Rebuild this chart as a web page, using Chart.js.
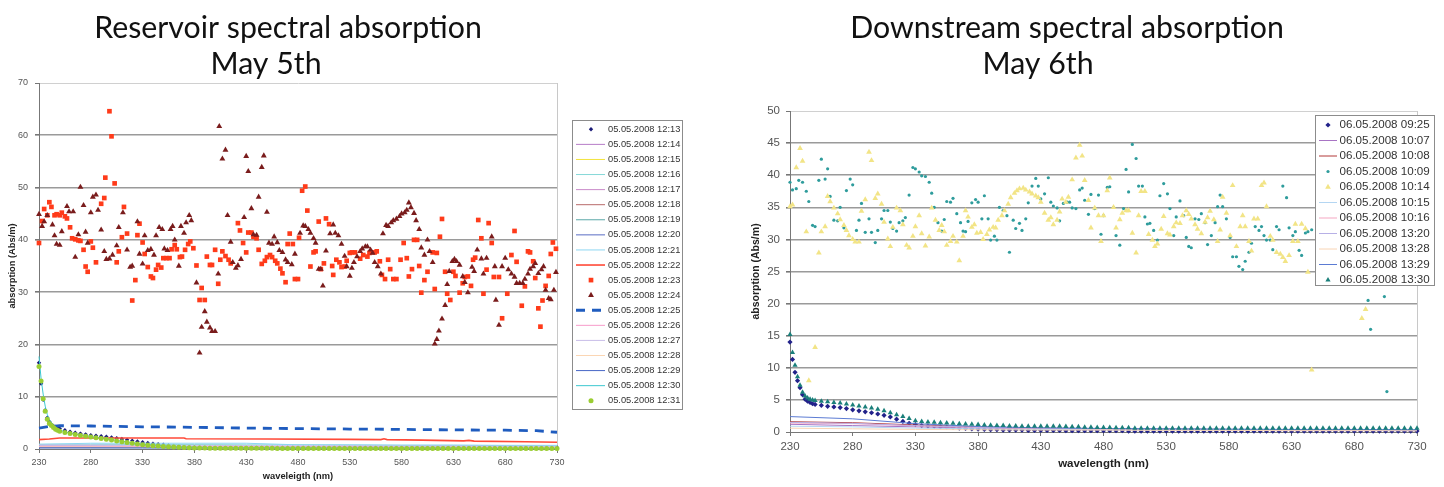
<!DOCTYPE html>
<html>
<head>
<meta charset="utf-8">
<script src="https://cdn.jsdelivr.net/npm/chart.js@4.4.1/dist/chart.umd.min.js"></script>
<style>
  html, body { margin: 0; padding: 0; background: #fff; }
  #wrap { position: relative; width: 1444px; height: 487px; overflow: hidden; }
  #leftBox { position: absolute; left: 0; top: 0; width: 720px; height: 487px; }
  #rightBox { position: absolute; left: 720px; top: 0; width: 724px; height: 487px; }
  canvas { display: block; }
</style>
</head>
<body>
<div id="wrap">
  <div id="leftBox"><canvas id="leftChart" width="720" height="487" style="width:720px;height:487px"></canvas></div>
  <div id="rightBox"><canvas id="rightChart" width="724" height="487" style="width:724px;height:487px"></canvas></div>
</div>
<script>
var FONT = '"Liberation Sans", Arial, sans-serif';

// ---------- shared wavelength grids ----------
var xTicks = [230, 280, 330, 380, 430, 480, 530, 580, 630, 680, 730];
var sparseNm = [230, 280, 330, 380, 430, 480, 530, 580, 630, 680, 730];
var headNm = [230, 232, 234, 236, 238, 240, 242, 244, 246, 248];
var gridNm = [];
for (var w = 250; w <= 730; w += 5) gridNm.push(w);
var curveNm = headNm.concat(gridNm);

// ---------- LEFT: reservoir, May 5th ----------
var leftYTicks = [0, 10, 20, 30, 40, 50, 60, 70];

var navy13Head = [16.5, 12.5, 9.4, 7.4, 6.0, 5.2, 4.7, 4.4, 4.2, 4.0];
var navy13Tail = [
  3.9, 3.6, 3.3, 3.1, 2.95, 2.8, 2.65, 2.55, 2.45, 2.35,
  2.2, 2.05, 1.9, 1.75, 1.6, 1.45, 1.3, 1.15, 1.0, 0.9,
  0.8, 0.7, 0.6, 0.55, 0.5, 0.45, 0.4, 0.4, 0.35, 0.35,
  0.3, 0.3, 0.3, 0.3, 0.3, 0.3, 0.3, 0.3, 0.3, 0.3,
  0.3, 0.3, 0.3, 0.3, 0.3, 0.3, 0.3, 0.3, 0.3, 0.3,
  0.3, 0.3, 0.3, 0.3, 0.3, 0.3, 0.3, 0.3, 0.3, 0.3,
  0.3, 0.3, 0.3, 0.3, 0.3, 0.3, 0.3, 0.3, 0.3, 0.3,
  0.3, 0.3, 0.3, 0.3, 0.3, 0.3, 0.3, 0.3, 0.3, 0.3,
  0.3, 0.3, 0.3, 0.3, 0.3, 0.3, 0.3, 0.3, 0.3, 0.3,
  0.3, 0.3, 0.3, 0.3, 0.3, 0.3, 0.3
];
var green31Head = [15.8, 13.0, 9.6, 7.2, 5.7, 4.9, 4.5, 4.1, 3.8, 3.6];
var green31Tail = [
  3.4, 3.15, 2.95, 2.75, 2.6, 2.45, 2.3, 2.15, 2.0, 1.85,
  1.7, 1.55, 1.4, 1.25, 1.1, 0.95, 0.8, 0.7, 0.6, 0.55,
  0.5, 0.45, 0.4, 0.35, 0.3, 0.25, 0.2, 0.2, 0.2, 0.15,
  0.15, 0.15, 0.15, 0.15, 0.15, 0.15, 0.15, 0.15, 0.15, 0.15,
  0.15, 0.15, 0.1, 0.1, 0.1, 0.1, 0.1, 0.1, 0.1, 0.1,
  0.1, 0.1, 0.1, 0.1, 0.1, 0.1, 0.1, 0.1, 0.1, 0.1,
  0.1, 0.1, 0.1, 0.1, 0.1, 0.1, 0.1, 0.1, 0.1, 0.1,
  0.1, 0.1, 0.1, 0.1, 0.1, 0.1, 0.1, 0.1, 0.1, 0.1,
  0.1, 0.1, 0.1, 0.1, 0.1, 0.1, 0.1, 0.1, 0.1, 0.1,
  0.1, 0.1, 0.1, 0.1, 0.1, 0.1, 0.1
];

var purple14Abs = [0.6, 0.6, 0.55, 0.5, 0.5, 0.45, 0.45, 0.4, 0.4, 0.35, 0.3];
var yellow15Abs = [0.3, 0.3, 0.3, 0.25, 0.25, 0.2, 0.2, 0.2, 0.2, 0.2, 0.2];
var cyan16Abs = [0.9, 0.9, 0.85, 0.85, 0.8, 0.8, 0.75, 0.7, 0.7, 0.65, 0.6];
var mauve17Abs = [0.45, 0.45, 0.4, 0.4, 0.4, 0.35, 0.35, 0.35, 0.3, 0.3, 0.3];
var brown18Abs = [0.35, 0.35, 0.3, 0.3, 0.3, 0.3, 0.25, 0.25, 0.25, 0.2, 0.2];
var teal19Abs = [0.25, 0.25, 0.25, 0.2, 0.2, 0.2, 0.2, 0.2, 0.15, 0.15, 0.15];
var blue20Abs = [0.3, 0.3, 0.3, 0.25, 0.25, 0.25, 0.2, 0.2, 0.2, 0.2, 0.2];
var sky21Abs = [0.9, 1.1, 1.1, 1.1, 1.1, 0.8, 0.8, 0.75, 0.75, 0.7, 0.7];
var red22Nm = [230, 240, 250, 300, 370, 372, 450, 530, 560, 563, 566, 600, 640, 645, 650, 700, 730];
var red22Abs = [1.8, 1.9, 2.1, 2.1, 2.1, 1.95, 1.9, 1.85, 1.8, 1.95, 1.8, 1.7, 1.55, 1.65, 1.5, 1.4, 1.3];

var sq23Nm = [230, 233, 235, 238, 240, 242, 245, 247, 250, 252, 255, 257, 260, 262, 265, 268, 270, 273, 275, 277,
  280, 282, 285, 290, 293, 294, 298, 300, 303, 305, 307, 310, 312, 315, 320, 323, 325, 327, 330, 332,
  335, 338, 340, 343, 345, 348, 350, 353, 356, 358, 361, 363, 366, 368, 371, 374, 376, 379, 382, 385,
  387, 390, 392, 395, 397, 400, 403, 405, 407, 410, 413, 415, 422, 424, 427, 430, 432, 435, 437, 440,
  442, 445, 448, 450, 453, 455, 458, 460, 463, 465, 468, 470, 472, 475, 477, 480, 481, 484, 487, 489,
  492, 495, 497, 500, 502, 505, 507, 510, 513, 514, 517, 520, 522, 525, 527, 530, 532, 535, 540, 543,
  547, 549, 554, 556, 559, 561, 564, 567, 569, 572, 575, 579, 582, 585, 587, 590, 592, 595, 597, 599,
  602, 605, 610, 612, 614, 617, 619, 622, 624, 627, 630, 632, 636, 639, 641, 644, 647, 649, 651, 654,
  657, 659, 662, 664, 667, 669, 674, 677, 682, 686, 689, 691, 696, 699, 702, 704, 707, 709, 712, 714,
  716, 719, 722, 724, 726, 729];
var sq23Abs = [39.4, 43.6, 45.9, 44.7, 47.2, 46.3, 44.7, 44.9, 44.7, 45.2, 44.5, 44.1, 42.4, 40.3, 40.1, 39.9, 39.8, 38.1, 34.9, 33.9,
  39.7, 38.5, 35.7, 46.9, 48.0, 51.9, 64.6, 59.8, 50.8, 35.7, 37.8, 40.5, 46.3, 41.2, 28.4, 32.3, 40.9, 43.1, 39.5, 37.3,
  34.8, 33.0, 32.7, 34.3, 35.2, 34.7, 36.5, 36.5, 36.5, 38.2, 39.0, 38.2, 36.7, 36.8, 38.1, 39.2, 39.7, 38.4, 35.1, 28.5,
  30.8, 28.5, 36.8, 35.2, 35.2, 38.1, 31.6, 36.2, 37.8, 36.9, 36.2, 35.5, 43.2, 41.8, 39.4, 37.6, 41.4, 41.4, 40.6, 40.3,
  38.1, 35.4, 36.0, 36.7, 37.1, 36.7, 36.0, 35.5, 34.5, 33.6, 31.9, 39.2, 41.2, 39.2, 32.5, 32.5, 40.4, 49.4, 50.2, 45.6,
  34.9, 37.6, 37.8, 43.5, 34.4, 35.5, 44.1, 43.0, 35.0, 33.3, 36.2, 35.7, 34.8, 34.9, 36.0, 37.5, 37.6, 37.6, 36.4, 37.1,
  36.8, 37.5, 37.6, 37.8, 35.9, 33.3, 32.5, 36.2, 34.4, 32.5, 32.5, 36.2, 39.4, 36.5, 33.0, 34.4, 40.0, 40.0, 35.0, 29.9,
  32.3, 33.9, 37.6, 30.6, 37.5, 40.6, 44.0, 33.9, 29.7, 28.5, 33.9, 33.1, 29.9, 31.7, 32.9, 33.0, 31.2, 36.2, 36.6, 43.8,
  40.3, 29.7, 34.3, 43.2, 39.4, 32.9, 32.9, 25.0, 29.7, 37.1, 41.7, 35.8, 27.4, 31.1, 37.8, 37.6, 35.9, 32.7, 26.9, 23.4,
  28.4, 31.2, 33.1, 37.3, 39.5, 38.3];

var tri24Nm = [230, 233, 235, 238, 243, 245, 247, 250, 252, 257, 259, 263, 265, 268, 270, 273, 275, 277, 280, 282,
  285, 287, 290, 293, 295, 298, 301, 305, 307, 311, 315, 318, 320, 325, 327, 330, 332, 335, 338, 341,
  343, 346, 349, 351, 354, 357, 359, 361, 365, 367, 370, 372, 375, 377, 382, 385, 387, 390, 392, 395,
  397, 400, 403, 404, 407, 410, 412, 415, 417, 420, 422, 425, 428, 430, 432, 435, 437, 440, 442, 445,
  447, 450, 452, 455, 457, 460, 462, 465, 468, 470, 474, 477, 482, 485, 487, 490, 492, 495, 497, 500,
  502, 504, 507, 511, 514, 516, 519, 522, 525, 527, 530, 532, 534, 537, 540, 542, 545, 547, 550, 552,
  554, 557, 560, 562, 565, 567, 570, 572, 575, 578, 580, 583, 585, 587, 589, 592, 594, 597, 599, 602,
  605, 607, 610, 612, 614, 616, 619, 622, 624, 626, 629, 631, 633, 636, 639, 641, 644, 648, 650, 653,
  657, 659, 662, 667, 670, 671, 674, 677, 680, 683, 686, 689, 691, 694, 697, 699, 702, 704, 707, 709,
  712, 715, 717, 719, 722, 724, 727, 729];
var tri24Abs = [44.9, 42.6, 43.5, 44.7, 42.9, 40.8, 39.2, 39.0, 41.6, 46.4, 45.4, 45.4, 36.7, 41.0, 50.1, 46.6, 41.5, 39.4, 45.2, 48.2,
  48.6, 45.7, 41.9, 37.8, 36.3, 36.4, 37.1, 38.9, 42.4, 45.2, 38.1, 34.8, 35.0, 43.5, 37.3, 35.4, 40.8, 38.0, 38.2, 37.1,
  40.8, 42.4, 42.0, 38.3, 38.0, 42.0, 42.6, 40.0, 35.0, 42.6, 41.3, 43.3, 44.7, 43.7, 31.8, 18.4, 23.3, 26.3, 24.3, 23.2,
  22.5, 22.5, 33.5, 61.7, 55.5, 57.2, 44.7, 39.6, 35.7, 34.6, 35.1, 36.3, 44.3, 56.0, 53.1, 46.0, 41.0, 40.9, 48.2, 53.9,
  56.1, 45.3, 39.4, 39.2, 40.6, 39.5, 38.0, 37.6, 36.2, 35.7, 35.3, 37.3, 41.3, 42.7, 42.6, 42.0, 41.3, 40.3, 39.4, 34.4,
  34.4, 31.2, 37.9, 41.2, 42.9, 41.3, 40.8, 39.2, 36.9, 34.9, 33.1, 34.6, 35.7, 36.8, 37.8, 38.3, 38.7, 38.7, 38.1, 37.5,
  35.7, 34.9, 33.5, 41.2, 42.8, 42.6, 43.3, 43.7, 44.0, 44.5, 45.0, 45.2, 45.7, 47.1, 46.2, 45.1, 43.7, 42.0, 38.5, 37.1,
  40.0, 37.8, 35.7, 20.1, 21.0, 22.6, 24.9, 27.5, 31.5, 34.0, 35.9, 36.3, 35.9, 35.2, 33.0, 31.9, 29.9, 34.8, 34.0, 38.1,
  36.4, 33.5, 36.5, 40.6, 34.9, 28.5, 23.7, 34.9, 36.5, 34.3, 33.5, 32.9, 31.7, 31.7, 31.7, 32.5, 33.5, 34.4, 34.9, 35.5,
  33.6, 34.3, 34.9, 30.4, 28.8, 28.6, 30.4, 33.8];

var dash25Nm = [230, 240, 250, 280, 330, 380, 430, 480, 530, 580, 630, 680, 710, 730];
var dash25Abs = [4.0, 4.3, 4.45, 4.4, 4.25, 4.15, 4.0, 3.9, 3.82, 3.75, 3.65, 3.6, 3.5, 3.2];
var pink26Abs = [0.5, 0.5, 0.5, 0.45, 0.45, 0.4, 0.4, 0.4, 0.35, 0.35, 0.35];
var lav27Abs = [0.75, 0.75, 0.7, 0.7, 0.65, 0.6, 0.6, 0.55, 0.55, 0.5, 0.5];
var peach28Abs = [0.4, 0.4, 0.35, 0.35, 0.35, 0.3, 0.3, 0.3, 0.3, 0.25, 0.25];
var blue29Abs = [0.2, 0.2, 0.2, 0.2, 0.15, 0.15, 0.15, 0.15, 0.15, 0.1, 0.1];
var cyan30Nm = [230, 232, 234, 236, 238, 240, 245, 250, 260, 280, 300, 330, 360, 400, 500, 730];
var cyan30Abs = [17.7, 13.5, 10.5, 8.2, 6.6, 5.6, 4.3, 3.6, 3.0, 2.4, 1.8, 0.9, 0.45, 0.25, 0.15, 0.1];

// ---------- RIGHT: downstream, May 6th ----------
var rightYTicks = [0, 5, 10, 15, 20, 25, 30, 35, 40, 45, 50];

var navy0925Head = [14.0, 11.3, 9.3, 8.0, 6.9, 5.8, 5.1, 4.8, 4.6, 4.4];
var navy0925Tail = [
  4.3, 4.15, 4.0, 3.9, 3.8, 3.65, 3.45, 3.3, 3.15, 3.0,
  2.8, 2.6, 2.35, 2.0, 1.65, 1.35, 1.15, 1.0, 0.95, 0.9,
  0.8, 0.75, 0.7, 0.6, 0.55, 0.5, 0.45, 0.4, 0.35, 0.35,
  0.3, 0.3, 0.3, 0.3, 0.25, 0.25, 0.25, 0.25, 0.25, 0.25,
  0.2, 0.2, 0.2, 0.2, 0.2, 0.2, 0.2, 0.2, 0.2, 0.2,
  0.15, 0.15, 0.15, 0.15, 0.15, 0.15, 0.15, 0.15, 0.15, 0.15,
  0.15, 0.15, 0.15, 0.15, 0.15, 0.15, 0.15, 0.15, 0.15, 0.15,
  0.15, 0.15, 0.15, 0.15, 0.15, 0.15, 0.15, 0.15, 0.15, 0.15,
  0.15, 0.15, 0.15, 0.15, 0.15, 0.15, 0.15, 0.15, 0.15, 0.15,
  0.15, 0.15, 0.15, 0.15, 0.15, 0.15, 0.15
];
var teal1330Head = [15.2, 12.4, 10.4, 8.6, 7.3, 6.2, 5.6, 5.3, 5.1, 5.0];
var teal1330Tail = [
  4.9, 4.8, 4.7, 4.6, 4.5, 4.35, 4.2, 4.05, 3.9, 3.75,
  3.55, 3.3, 3.0, 2.7, 2.4, 2.1, 1.75, 1.65, 1.55, 1.5,
  1.45, 1.4, 1.35, 1.3, 1.25, 1.2, 1.15, 1.1, 1.05, 1.0,
  1.0, 0.95, 0.95, 0.9, 0.9, 0.9, 0.9, 0.9, 0.9, 0.9,
  0.85, 0.8, 0.8, 0.75, 0.75, 0.7, 0.7, 0.7, 0.65, 0.65,
  0.65, 0.6, 0.6, 0.6, 0.6, 0.6, 0.6, 0.6, 0.6, 0.6,
  0.6, 0.6, 0.6, 0.6, 0.6, 0.6, 0.6, 0.6, 0.6, 0.6,
  0.6, 0.6, 0.6, 0.6, 0.6, 0.6, 0.6, 0.6, 0.6, 0.6,
  0.6, 0.6, 0.6, 0.6, 0.6, 0.6, 0.6, 0.6, 0.6, 0.6,
  0.6, 0.6, 0.6, 0.6, 0.6, 0.6, 0.6
];

var dot1009Nm = [230, 232, 235, 237, 240, 243, 245, 248, 250, 253, 255, 258, 260, 262, 265, 268, 270, 273, 275, 278,
  280, 283, 285, 287, 290, 293, 295, 298, 300, 303, 305, 308, 310, 312, 315, 317, 320, 322, 325, 328,
  330, 333, 335, 338, 341, 343, 345, 348, 351, 353, 355, 358, 360, 363, 366, 368, 370, 372, 375, 378,
  380, 383, 385, 388, 390, 393, 395, 397, 400, 403, 405, 408, 410, 413, 415, 418, 420, 423, 426, 428,
  430, 433, 436, 438, 440, 443, 445, 448, 451, 453, 455, 458, 461, 463, 465, 468, 470, 473, 476, 478,
  480, 483, 485, 488, 490, 493, 496, 498, 500, 503, 506, 508, 511, 513, 515, 517, 520, 523, 525, 528,
  531, 533, 536, 538, 541, 544, 546, 548, 550, 553, 556, 558, 561, 563, 566, 569, 571, 573, 575, 578,
  581, 583, 586, 588, 591, 593, 596, 598, 601, 604, 606, 608, 610, 613, 615, 618, 620, 623, 626, 628,
  631, 633, 636, 638, 641, 643, 646, 691, 693, 704, 706];
var dot1009Abs = [38.9, 37.7, 37.9, 39.2, 38.9, 37.5, 35.9, 32.2, 32.0, 39.2, 42.5, 39.4, 41.0, 36.7, 33.0, 32.9, 35.0, 31.8, 37.6, 39.4,
  38.5, 31.4, 33.0, 35.6, 31.1, 33.2, 31.1, 29.5, 31.4, 33.2, 34.5, 34.5, 32.7, 31.7, 31.3, 32.6, 32.9, 33.4, 36.9, 41.2,
  41.0, 40.5, 39.9, 39.8, 38.9, 37.2, 35.0, 32.6, 31.3, 33.1, 35.9, 35.8, 36.4, 34.0, 32.6, 31.3, 31.2, 32.8, 35.7, 36.2,
  35.8, 33.2, 36.8, 33.2, 29.9, 30.5, 29.9, 35.0, 34.5, 33.7, 28.0, 33.0, 31.7, 32.5, 31.4, 33.2, 35.7, 38.3, 39.5, 38.3,
  36.3, 37.1, 39.6, 35.8, 35.2, 34.9, 32.9, 35.6, 35.8, 35.8, 34.9, 34.8, 37.7, 38.0, 36.1, 33.9, 37.0, 34.8, 36.9, 30.8,
  33.7, 38.1, 38.2, 35.0, 30.6, 29.1, 34.8, 40.9, 37.4, 44.8, 42.6, 38.3, 38.3, 33.5, 32.4, 32.5, 31.4, 29.9, 36.8, 38.7,
  37.1, 34.8, 30.6, 33.5, 36.0, 33.7, 30.3, 28.9, 28.7, 33.2, 33.1, 34.0, 32.6, 29.2, 30.6, 32.6, 35.1, 36.9, 35.1, 33.2,
  30.3, 27.3, 27.3, 25.8, 25.3, 26.6, 28.0, 29.4, 32.0, 31.4, 32.0, 30.6, 29.9, 29.9, 28.4, 32.0, 31.5, 38.3, 36.5, 31.8,
  30.6, 31.2, 28.3, 27.5, 31.0, 31.2, 31.5, 20.5, 16.0, 21.1, 6.3];

var tri1014Nm = [230, 232, 235, 238, 240, 243, 245, 250, 253, 255, 258, 260, 262, 265, 268, 270, 273, 275, 277, 280,
  282, 285, 287, 290, 293, 295, 298, 300, 303, 305, 308, 310, 312, 315, 318, 320, 323, 325, 328, 330,
  333, 335, 338, 341, 343, 346, 349, 351, 353, 355, 358, 360, 363, 365, 368, 370, 372, 375, 377, 379,
  382, 384, 387, 389, 392, 394, 396, 399, 401, 404, 406, 409, 411, 413, 416, 418, 421, 423, 426, 428,
  430, 433, 436, 438, 440, 443, 445, 447, 450, 452, 455, 458, 461, 463, 465, 468, 470, 473, 476, 478,
  480, 483, 485, 488, 490, 493, 495, 498, 500, 503, 506, 508, 510, 513, 516, 519, 521, 523, 526, 528,
  531, 533, 536, 538, 541, 543, 546, 548, 550, 553, 555, 558, 561, 563, 565, 568, 571, 573, 575, 578,
  581, 583, 586, 589, 591, 593, 596, 598, 600, 603, 606, 608, 610, 613, 615, 618, 621, 623, 625, 628,
  631, 633, 635, 638, 641, 643, 646, 686, 689];
var tri1014Abs = [35.1, 35.4, 41.2, 44.2, 42.2, 31.2, 8.0, 13.2, 27.9, 31.2, 32.0, 36.7, 35.9, 34.9, 34.0, 33.1, 32.2, 31.4, 30.6, 30.0,
  29.6, 29.6, 34.4, 36.2, 43.6, 42.3, 36.4, 37.1, 35.5, 32.7, 30.1, 28.9, 31.9, 34.9, 34.5, 32.3, 29.1, 28.7, 30.5, 32.0,
  33.7, 30.9, 29.0, 30.4, 34.9, 33.0, 31.4, 32.2, 31.2, 29.1, 29.7, 30.5, 29.6, 26.7, 30.5, 34.5, 33.5, 31.9, 32.3, 31.0,
  31.1, 30.0, 30.8, 31.5, 31.9, 31.8, 33.0, 33.7, 34.5, 35.5, 36.5, 37.2, 37.6, 37.9, 38.0, 37.7, 37.4, 37.1, 36.8, 36.5,
  35.8, 34.1, 33.0, 33.4, 32.3, 33.0, 34.3, 36.3, 35.8, 36.6, 39.3, 42.7, 44.7, 43.0, 39.2, 36.1, 31.8, 34.9, 33.7, 29.7,
  33.7, 37.6, 39.6, 35.0, 31.8, 33.1, 34.1, 34.5, 34.5, 31.0, 27.9, 33.7, 37.5, 37.5, 30.8, 29.9, 28.9, 29.3, 31.6, 33.6,
  30.9, 30.7, 32.0, 32.6, 32.5, 33.7, 34.5, 33.9, 33.2, 32.3, 31.6, 30.9, 32.7, 33.4, 34.4, 33.1, 29.7, 31.5, 36.6, 34.1,
  30.6, 38.4, 28.9, 32.0, 33.7, 32.0, 29.7, 28.2, 33.2, 33.2, 38.4, 38.8, 35.1, 30.5, 29.9, 28.0, 27.7, 27.2, 26.6, 27.5,
  29.7, 32.4, 29.7, 32.4, 31.7, 24.9, 9.7, 17.7, 19.1];

var purple1007Abs = [1.2, 1.0, 0.8, 0.6, 0.5, 0.45, 0.4, 0.35, 0.3, 0.3, 0.25];
var red1008Abs = [1.6, 1.45, 1.1, 0.8, 0.6, 0.5, 0.45, 0.4, 0.35, 0.3, 0.2];
var sky1015Abs = [0.9, 0.8, 0.6, 0.5, 0.4, 0.35, 0.3, 0.3, 0.25, 0.25, 0.2];
var pink1016Abs = [1.4, 1.3, 0.95, 0.7, 0.55, 0.45, 0.4, 0.35, 0.3, 0.3, 0.25];
var lav1320Abs = [1.5, 1.35, 1.0, 0.75, 0.6, 0.5, 0.45, 0.4, 0.35, 0.3, 0.3];
var peach1328Abs = [0.6, 0.5, 0.4, 0.35, 0.3, 0.3, 0.25, 0.25, 0.2, 0.2, 0.2];
var blue1329Abs = [2.4, 2.05, 1.3, 0.85, 0.65, 0.55, 0.5, 0.45, 0.4, 0.4, 0.35];

// ---------- helpers ----------
function pts(xs, ys) {
  return xs.map(function (x, i) { return { x: x, y: ys[i] }; });
}

function markerSet(label, xs, ys, style, r, color) {
  return {
    label: label, data: pts(xs, ys), showLine: false,
    pointStyle: style, pointRadius: r, pointHoverRadius: r,
    pointBackgroundColor: color, pointBorderColor: color, pointBorderWidth: 0,
    borderColor: color, backgroundColor: color, clip: false
  };
}

function lineSet(label, xs, ys, color, width, dash) {
  return {
    label: label, data: pts(xs, ys), showLine: true, pointRadius: 0,
    borderColor: color, backgroundColor: color, borderWidth: width,
    borderDash: dash || [], tension: 0, fill: false, clip: false
  };
}

// draw the boxed legend at a fixed spot, like the spreadsheet did
function boxLegend(box) {
  return {
    id: 'boxLegend',
    afterDraw: function (chart) {
      var ctx = chart.ctx;
      ctx.save();
      ctx.fillStyle = '#fff';
      ctx.fillRect(box.x, box.y, box.w, box.h);
      ctx.strokeStyle = '#8c8c8c';
      ctx.lineWidth = 1;
      ctx.strokeRect(box.x + 0.5, box.y + 0.5, box.w, box.h);
      ctx.font = box.font + 'px ' + FONT;
      ctx.textBaseline = 'middle';
      ctx.textAlign = 'left';
      chart.data.datasets.forEach(function (ds, i) {
        var cy = box.row0 + i * box.gap;
        if (ds.showLine) {
          ctx.save();
          ctx.strokeStyle = ds.borderColor;
          ctx.lineWidth = ds.borderWidth;
          ctx.setLineDash(ds.borderDash || []);
          ctx.beginPath();
          ctx.moveTo(box.lineX0, cy);
          ctx.lineTo(box.lineX1, cy);
          ctx.stroke();
          ctx.restore();
        }
        if (ds.pointRadius > 0) {
          ctx.fillStyle = ds.pointBackgroundColor;
          ctx.strokeStyle = ds.pointBorderColor;
          Chart.helpers.drawPoint(ctx, {
            pointStyle: ds.pointStyle, radius: ds.pointRadius,
            borderWidth: 0, rotation: 0
          }, box.markX, cy);
        }
        ctx.fillStyle = '#333';
        ctx.fillText(ds.label, box.textX, cy);
      });
      ctx.restore();
    }
  };
}

function slideTitle(lines, size) {
  return {
    id: 'slideTitle',
    afterDraw: function (chart) {
      var ctx = chart.ctx;
      ctx.save();
      ctx.fillStyle = '#111';
      ctx.font = size + 'px Lato, "Open Sans", sans-serif';
      ctx.textAlign = 'center';
      ctx.textBaseline = 'alphabetic';
      lines.forEach(function (l) { ctx.fillText(l.text, l.x, l.y); });
      ctx.restore();
    }
  };
}

// light frame on the right edge of the plot
var plotFrame = {
  id: 'plotFrame',
  beforeDatasetsDraw: function (chart) {
    var a = chart.chartArea, ctx = chart.ctx;
    ctx.save();
    ctx.strokeStyle = '#c8c8c8';
    ctx.lineWidth = 1;
    ctx.beginPath();
    ctx.moveTo(Math.round(a.right) + 0.5, a.top);
    ctx.lineTo(Math.round(a.right) + 0.5, a.bottom);
    ctx.stroke();
    ctx.restore();
  }
};

function scalesFor(o) {
  return {
    x: {
      type: 'linear', min: 230, max: 730,
      afterBuildTicks: function (s) { s.ticks = xTicks.map(function (v) { return { value: v }; }); },
      afterFit: function (s) { s.height = o.xHeight; },
      grid: { drawOnChartArea: false, drawTicks: true, tickLength: 4, tickColor: '#777' },
      border: { display: true, color: '#777', width: 1 },
      ticks: { font: { family: FONT, size: o.tickSize }, color: '#555', padding: o.xPad, maxRotation: 0, autoSkip: false },
      title: { display: true, text: o.xTitle, color: '#222',
        font: { family: FONT, size: o.titleSize, weight: 'bold' },
        padding: { top: 0, bottom: o.xTitlePad } }
    },
    y: {
      type: 'linear', min: 0, max: o.yMax,
      afterBuildTicks: function (s) { s.ticks = o.yTicks.map(function (v) { return { value: v }; }); },
      afterFit: function (s) { s.width = o.yWidth; },
      grid: {
        color: function (c) {
          if (c.tick && c.tick.value === o.yMax) return '#d0d0d0';
          if (c.tick && c.tick.value === 0) return '#777';
          return '#9a9a9a';
        },
        lineWidth: function (c) { return (c.tick && (c.tick.value === o.yMax || c.tick.value === 0)) ? 1 : 1.6; },
        tickLength: 4, tickColor: '#777'
      },
      border: { display: true, color: '#777', width: 1 },
      ticks: { font: { family: FONT, size: o.tickSize }, color: '#555', padding: o.yPad, autoSkip: false },
      title: { display: true, text: 'absorption (Abs/m)', color: '#222',
        font: { family: FONT, size: o.yTitleSize, weight: 'bold' },
        padding: { top: o.yTitlePad, bottom: 0 } }
    }
  };
}

function makeChart(id, datasets, scales, padding, extraPlugins) {
  datasets.forEach(function (d, i) { d.order = -i; });
  return new Chart(document.getElementById(id), {
    type: 'scatter',
    data: { datasets: datasets },
    options: {
      responsive: false, animation: false, events: [],
      layout: { padding: padding },
      plugins: { legend: { display: false }, tooltip: { enabled: false }, title: { display: false } },
      scales: scales
    },
    plugins: [plotFrame].concat(extraPlugins)
  });
}

// ---------- left chart ----------
var leftSets = [
  markerSet('05.05.2008 12:13', curveNm, navy13Head.concat(navy13Tail), 'rectRot', 2.2, '#1c1c78'),
  lineSet('05.05.2008 12:14', sparseNm, purple14Abs, '#b77dc8', 1),
  lineSet('05.05.2008 12:15', sparseNm, yellow15Abs, '#f2e33c', 1),
  lineSet('05.05.2008 12:16', sparseNm, cyan16Abs, '#86d8d8', 1),
  lineSet('05.05.2008 12:17', sparseNm, mauve17Abs, '#c98bc9', 1),
  lineSet('05.05.2008 12:18', sparseNm, brown18Abs, '#b86a6a', 1),
  lineSet('05.05.2008 12:19', sparseNm, teal19Abs, '#5aa8a8', 1),
  lineSet('05.05.2008 12:20', sparseNm, blue20Abs, '#5a6cc4', 1),
  lineSet('05.05.2008 12:21', sparseNm, sky21Abs, '#8ed6f2', 1),
  lineSet('05.05.2008 12:22', red22Nm, red22Abs, '#ff4a38', 1.6),
  markerSet('05.05.2008 12:23', sq23Nm, sq23Abs, 'rect', 3.3, '#ff3b1a'),
  markerSet('05.05.2008 12:24', tri24Nm, tri24Abs, 'triangle', 3.4, '#7a1c1c'),
  lineSet('05.05.2008 12:25', dash25Nm, dash25Abs, '#1f5cbf', 2.8, [9, 7]),
  lineSet('05.05.2008 12:26', sparseNm, pink26Abs, '#f79ccb', 1),
  lineSet('05.05.2008 12:27', sparseNm, lav27Abs, '#c9bde8', 1),
  lineSet('05.05.2008 12:28', sparseNm, peach28Abs, '#fbd6b4', 1),
  lineSet('05.05.2008 12:29', sparseNm, blue29Abs, '#4766c6', 1),
  lineSet('05.05.2008 12:30', cyan30Nm, cyan30Abs, '#3cc8d0', 1),
  markerSet('05.05.2008 12:31', curveNm, green31Head.concat(green31Tail), 'circle', 2.5, '#9acd32')
];

makeChart('leftChart', leftSets, scalesFor({
  yMax: 70, yTicks: leftYTicks, yWidth: 39, xHeight: 38, tickSize: 9,
  xPad: 4, yPad: 7, titleSize: 9.3, yTitleSize: 9.3, xTitlePad: 5.4, yTitlePad: 6.4,
  xTitle: 'waveleigth (nm)'
}), { left: 0, top: 83, right: 163, bottom: 0 }, [
  boxLegend({ x: 572, y: 120, w: 110, h: 289, row0: 129.3, gap: 15.08,
    lineX0: 576, lineX1: 605, markX: 591, textX: 608, font: 9.3 }),
  slideTitle([
    { text: 'Reservoir spectral absorption', x: 288, y: 38 },
    { text: 'May 5th', x: 266, y: 74 }
  ], 30.3)
]);

// ---------- right chart ----------
var rightSets = [
  markerSet('06.05.2008 09:25', curveNm, navy0925Head.concat(navy0925Tail), 'rectRot', 2.6, '#22228a'),
  lineSet('06.05.2008 10:07', sparseNm, purple1007Abs, '#a874c4', 1),
  lineSet('06.05.2008 10:08', sparseNm, red1008Abs, '#b23838', 1),
  markerSet('06.05.2008 10:09', dot1009Nm, dot1009Abs, 'circle', 1.6, '#2e9c9c'),
  markerSet('06.05.2008 10:14', tri1014Nm, tri1014Abs, 'triangle', 3.3, '#f2e486'),
  lineSet('06.05.2008 10:15', sparseNm, sky1015Abs, '#b4d6f2', 1),
  lineSet('06.05.2008 10:16', sparseNm, pink1016Abs, '#f5a7c2', 1),
  lineSet('06.05.2008 13:20', sparseNm, lav1320Abs, '#b7b0e6', 1),
  lineSet('06.05.2008 13:28', sparseNm, peach1328Abs, '#f8d4b4', 1),
  lineSet('06.05.2008 13:29', sparseNm, blue1329Abs, '#5b7bd3', 1),
  markerSet('06.05.2008 13:30', curveNm, teal1330Head.concat(teal1330Tail), 'triangle', 3.0, '#1a7f7a')
];

makeChart('rightChart', rightSets, scalesFor({
  yMax: 50, yTicks: rightYTicks, yWidth: 70, xHeight: 55, tickSize: 11.5,
  xPad: 4, yPad: 6, titleSize: 11.5, yTitleSize: 10.5, xTitlePad: 16, yTitlePad: 30,
  xTitle: 'wavelength (nm)'
}), { left: 0, top: 111, right: 27, bottom: 0 }, [
  boxLegend({ x: 595, y: 115, w: 119, h: 170, row0: 125, gap: 15.5,
    lineX0: 599, lineX1: 617, markX: 608, textX: 619.5, font: 11.6 }),
  slideTitle([
    { text: 'Downstream spectral absorption', x: 347, y: 38 },
    { text: 'May 6th', x: 318, y: 74 }
  ], 30.3)
]);
</script>
</body>
</html>
